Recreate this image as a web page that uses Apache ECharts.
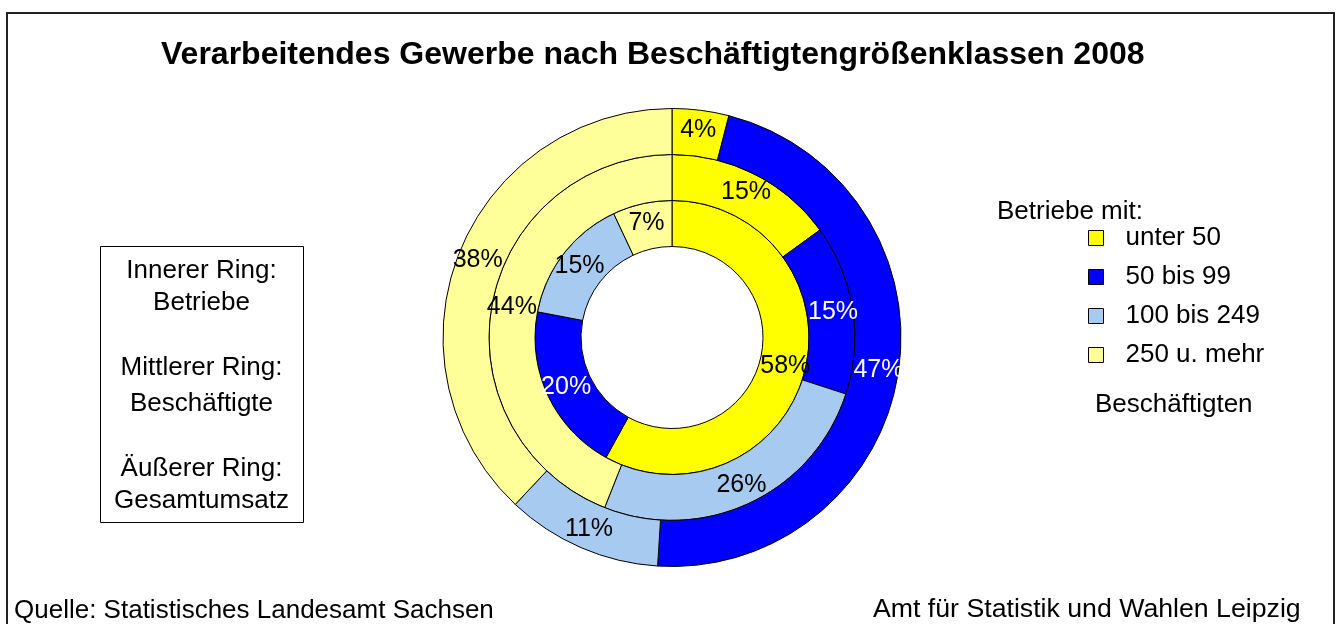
<!DOCTYPE html>
<html>
<head>
<meta charset="utf-8">
<script src="https://cdn.jsdelivr.net/npm/echarts@6/dist/echarts.min.js"></script>
<style>
  html, body { margin: 0; padding: 0; background: #fff; }
  #chart { width: 1337px; height: 624px; }
</style>
</head>
<body>
<div id="chart"></div>
<script>
// Betriebe nach Beschäftigtengrößenklassen
const categories = ['unter 50', '50 bis 99', '100 bis 249', '250 u. mehr']
// Anteile in Prozent
const betriebe = [58, 20, 15, 7]        // innerer Ring
const beschaeftigte = [15, 15, 26, 44]  // mittlerer Ring
const umsatz = [4, 47, 11, 38]          // äußerer Ring

const colors = ['#FFFF00', '#0000FF', '#A6CAF0', '#FFFF99']
const labelColors = ['#000', '#fff', '#000', '#000']
const font = 'Liberation Sans, Arial, sans-serif'

const center = [672, 337.5]

const ringData = (values) =>
  values.map((v, i) => ({
    name: categories[i],
    value: v,
    itemStyle: { color: colors[i] },
    label: { color: labelColors[i] },
  }))

const ring = (name, values, radius) => ({
  name: name,
  type: 'pie',
  center: center,
  radius: radius,
  startAngle: 90,
  clockwise: true,
  silent: true,
  animation: false,
  itemStyle: {
    borderColor: '#000',
    borderWidth: 1,
  },
  label: {
    show: true,
    position: 'inside',
    formatter: '{c}%',
    fontFamily: font,
    fontSize: 25,
  },
  labelLine: { show: false },
  emphasis: { disabled: true },
  data: ringData(values),
})

const boxLines = [
  ['Innerer Ring:', 270],
  ['Betriebe', 302],
  ['Mittlerer Ring:', 367],
  ['Beschäftigte', 403],
  ['Äußerer Ring:', 468],
  ['Gesamtumsatz', 500],
]

const txt = (text, x, y, align, size) => ({
  type: 'text',
  x: x,
  y: y,
  style: {
    text: text,
    fontFamily: font,
    fontSize: size || 26,
    fill: '#000',
    align: align || 'left',
    verticalAlign: 'middle',
  },
})

const options = {
  backgroundColor: '#fff',
  title: {
    text: 'Verarbeitendes Gewerbe nach Beschäftigtengrößenklassen 2008',
    left: 161,
    top: 39,
    padding: 0,
    textStyle: {
      fontFamily: font,
      fontSize: 32,
      fontWeight: 'bold',
      color: '#000',
    },
  },
  legend: {
    orient: 'vertical',
    left: 1088,
    top: 225,
    padding: 0,
    itemWidth: 15,
    itemHeight: 15,
    itemGap: 13,
    icon: 'rect',
    selectedMode: false,
    data: categories,
    itemStyle: { borderColor: '#000', borderWidth: 1 },
    textStyle: {
      fontFamily: font,
      fontSize: 26,
      lineHeight: 26,
      color: '#000',
      padding: [0, 0, 0, 17],
    },
  },
  graphic: [
    {
      type: 'rect',
      shape: { x: 7, y: 13, width: 1327, height: 640 },
      style: { fill: null, stroke: '#222', lineWidth: 2 },
    },
    {
      type: 'rect',
      shape: { x: 100.5, y: 246.5, width: 203, height: 276 },
      style: { fill: null, stroke: '#000', lineWidth: 1 },
    },
    ...boxLines.map(([t, y]) => txt(t, 201.5, y + 1, 'center')),
    txt('Betriebe mit:', 997, 212),
    txt('Beschäftigten', 1095, 405),
    txt('Quelle: Statistisches Landesamt Sachsen', 14, 611),
    txt('Amt für Statistik und Wahlen Leipzig', 873, 610, 'left', 26.7),
  ],
  series: [
    ring('Betriebe', betriebe, [91, 137]),
    ring('Beschäftigte', beschaeftigte, [137, 183]),
    ring('Gesamtumsatz', umsatz, [183, 229]),
  ],
}

const chart = echarts.init(document.getElementById('chart'))
chart.setOption(options)
window.addEventListener('resize', function () {
  chart && chart.resize()
})
</script>
</body>
</html>
